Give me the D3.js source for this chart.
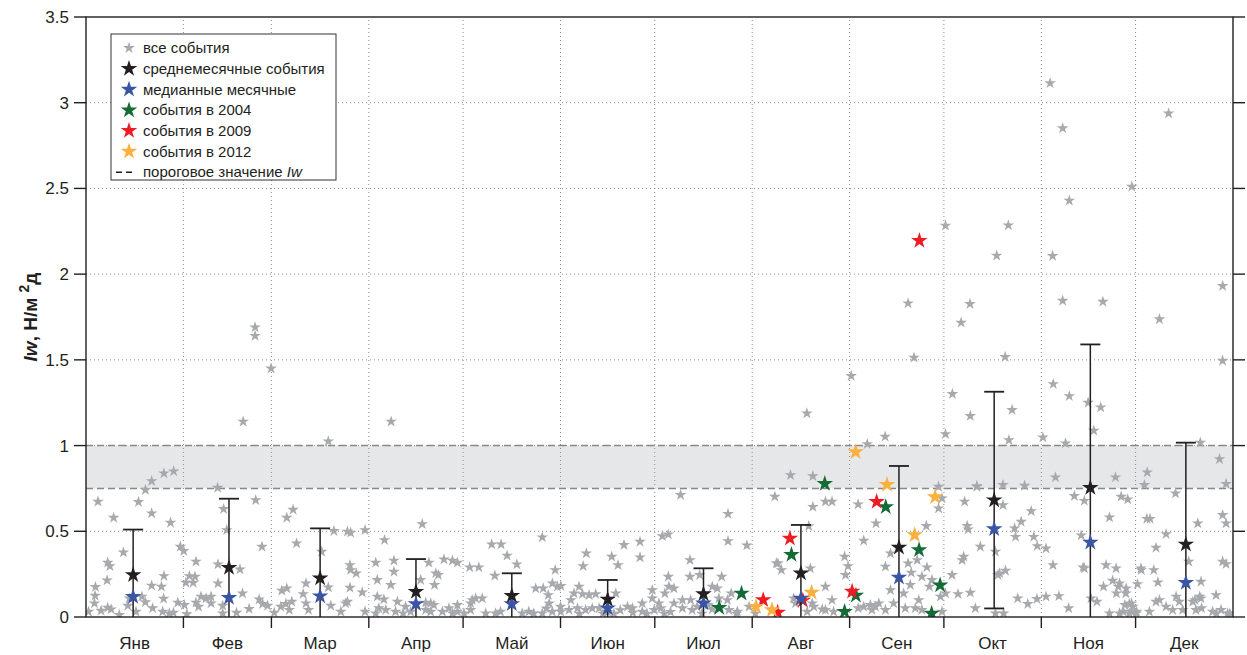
<!DOCTYPE html>
<html>
<head>
<meta charset="utf-8">
<script src="https://cdn.jsdelivr.net/npm/d3@7"></script>
<style>
  body { margin: 0; background: #fff; }
  svg { font-family: "Liberation Sans", Arial, sans-serif; }
</style>
</head>
<body>
<svg id="chart" width="1247" height="655"></svg>
<script>
// Months and their boundaries (day of year)
const months = ["Янв", "Фев", "Мар", "Апр", "Май", "Июн", "Июл", "Авг", "Сен", "Окт", "Ноя", "Дек"];
const monthStarts = [0, 31, 59, 90, 120, 151, 181, 212, 243, 273, 304, 334, 365];
const yTicks = [0, 0.5, 1, 1.5, 2, 2.5, 3, 3.5];
const thresholdLow = 0.75;
const thresholdHigh = 1;

// Monthly statistics
const statDay = [15, 45.5, 74.5, 105, 135.5, 166, 196.5, 227.5, 258.7, 289, 319.6, 350];
const monthMean = [0.245, 0.288, 0.226, 0.148, 0.124, 0.103, 0.134, 0.255, 0.406, 0.682, 0.754, 0.424];
const monthMedian = [0.119, 0.113, 0.122, 0.076, 0.076, 0.051, 0.080, 0.109, 0.231, 0.513, 0.435, 0.200];
const monthStd = [0.265, 0.402, 0.291, 0.190, 0.131, 0.113, 0.150, 0.282, 0.475, 0.632, 0.836, 0.593];

// Events of particular years [day, Iw]
const events2004 = [[201.5, 0.054], [208.6, 0.138], [224.5, 0.364], [235.1, 0.778], [241.4, 0.031],
    [245.0, 0.126], [254.5, 0.642], [265.1, 0.391], [269.1, 0.021], [271.8, 0.185]];
const events2009 = [[215.5, 0.099], [220.1, 0.027], [224.0, 0.458], [228.1, 0.097], [243.8, 0.149],
    [251.6, 0.672], [265.2, 2.195]];
const events2012 = [[213.2, 0.060], [218.3, 0.041], [230.9, 0.143], [244.9, 0.963], [254.9, 0.772],
    [263.7, 0.478], [270.2, 0.700]];

// All events [day, Iw]
const allEvents = [
    [3.8, 0.673], [8.8, 0.579], [16.7, 0.671], [20.9, 0.605], [26.9, 0.55], [18.9, 0.741], [20.9, 0.793],
    [24.8, 0.838], [27.9, 0.85], [11.9, 0.377], [6.9, 0.317], [7.6, 0.297], [6.7, 0.214], [3.0, 0.175],
    [2.9, 0.124], [2.7, 0.08], [0.8, 0.031], [4.8, 0.037], [6.9, 0.054], [8.0, 0.045], [10.6, 0.012],
    [13.3, 0.066], [13.8, 0.109], [15.9, 0.031], [17.8, 0.119], [18.9, 0.086], [20.9, 0.183], [24.0, 0.177],
    [24.8, 0.239], [24.7, 0.107], [21.2, 0.051], [24.4, 0.031], [26.5, 0.021], [27.8, 0.025], [29.2, 0.084],
    [30.0, 0.41], [31.1, 0.385], [31.8, 0.2], [32.9, 0.239], [34.7, 0.235], [34.1, 0.2], [35.0, 0.323],
    [31.3, 0.07], [35.0, 0.084], [36.6, 0.119], [38.2, 0.109], [39.8, 0.119], [39.8, 0.08], [35.8, 0.06],
    [32.1, 0.017], [41.9, 0.754], [43.8, 0.63], [44.8, 0.507], [42.0, 0.307], [42.0, 0.196], [43.5, 0.066],
    [43.5, 0.021], [49.0, 0.278], [49.8, 0.138], [47.9, 0.025], [51.9, 0.047], [54.0, 0.682], [56.0, 0.41],
    [55.1, 0.103], [56.2, 0.076], [57.8, 0.066], [59.9, 0.025], [62.3, 0.154], [63.9, 0.167], [62.0, 0.06],
    [63.6, 0.076], [64.7, 0.041], [65.5, 0.089], [63.9, 0.579], [65.9, 0.626], [67.0, 0.43], [70.0, 0.196],
    [69.1, 0.134], [70.0, 0.08], [70.8, 0.041], [53.8, 1.69], [53.8, 1.64], [50.0, 1.14], [58.9, 1.45],
    [77.1, 1.025], [78.9, 0.502], [83.2, 0.498], [84.2, 0.492], [88.8, 0.507], [75.0, 0.381], [84.0, 0.303],
    [84.2, 0.274], [86.0, 0.255], [77.1, 0.173], [84.0, 0.171], [87.9, 0.144], [77.9, 0.066], [81.1, 0.031],
    [82.6, 0.08], [83.2, 0.089], [88.8, 0.031], [92.2, 0.317], [95.0, 0.449], [92.7, 0.216], [97.0, 0.187],
    [92.7, 0.119], [94.8, 0.103], [93.2, 0.051], [95.4, 0.041], [92.2, 0.021], [98.0, 0.329], [98.0, 0.264],
    [99.1, 0.089], [98.5, 0.031], [101.7, 0.06], [103.3, 0.031], [100.9, 0.021], [107.0, 0.542], [109.1, 0.317],
    [113.9, 0.336], [116.6, 0.329], [118.2, 0.317], [111.3, 0.255], [112.1, 0.245], [110.9, 0.187], [106.5, 0.216],
    [108.1, 0.084], [109.7, 0.08], [110.7, 0.07], [108.1, 0.041], [109.7, 0.031], [113.4, 0.031], [115.5, 0.051],
    [118.2, 0.07], [118.2, 0.031], [120.3, 0.021], [116.6, 0.021], [122.1, 0.29], [125.0, 0.29], [122.4, 0.08],
    [122.9, 0.099], [124.0, 0.109], [126.1, 0.109], [122.4, 0.041], [127.2, 0.021], [130.3, 0.021], [131.9, 0.031],
    [129.1, 0.424], [132.1, 0.424], [134.0, 0.358], [137.1, 0.307], [130.1, 0.241], [145.2, 0.465], [143.1, 0.167],
    [145.5, 0.167], [138.8, 0.021], [140.9, 0.031], [142.5, 0.021], [145.2, 0.021], [97.1, 1.14],
    [149.3, 0.274], [148.4, 0.196], [150.0, 0.177], [151.1, 0.181], [147.1, 0.128], [147.4, 0.08], [148.4, 0.031],
    [151.1, 0.031], [159.2, 0.371], [158.2, 0.297], [154.3, 0.099], [156.9, 0.177], [155.3, 0.138], [158.0, 0.134],
    [160.1, 0.128], [162.2, 0.134], [153.7, 0.041], [156.4, 0.051], [159.0, 0.041], [161.1, 0.051], [163.3, 0.051],
    [171.2, 0.42], [176.3, 0.439], [176.3, 0.348], [167.3, 0.352], [169.3, 0.303], [168.6, 0.138], [172.3, 0.06],
    [173.9, 0.051], [177.0, 0.08], [177.0, 0.031], [180.2, 0.157], [180.2, 0.109], [182.3, 0.08], [182.9, 0.051],
    [180.8, 0.041], [183.4, 0.472], [185.3, 0.482], [189.2, 0.712], [204.3, 0.601], [204.3, 0.443], [210.3, 0.418],
    [192.2, 0.332], [185.3, 0.235], [192.2, 0.235], [195.3, 0.245], [185.5, 0.177], [187.1, 0.167], [184.2, 0.138],
    [187.1, 0.08], [189.8, 0.099], [192.4, 0.099], [189.8, 0.051], [192.9, 0.041], [194.5, 0.06], [199.3, 0.177],
    [200.9, 0.167], [202.3, 0.235], [201.4, 0.109], [204.1, 0.099], [199.3, 0.045], [204.6, 0.041], [207.3, 0.031],
    [205.3, 0.138], [219.2, 0.702], [219.7, 0.313],
    [164.5, 0.02], [166.0, 0.03], [168.0, 0.02], [170.0, 0.04], [174.0, 0.025], [157.0, 0.02], [151.0, 0.06],
    [146.5, 0.05], [178.5, 0.02], [184.0, 0.02], [186.0, 0.03], [196.0, 0.02], [198.0, 0.07], [207.0, 0.02],
    [211.0, 0.06], [213.0, 0.02],
    [248.6, 1.009], [224.2, 0.828], [231.3, 0.822], [235.3, 0.673], [237.4, 0.673], [231.3, 0.643], [220.2, 0.313],
    [221.3, 0.274], [230.5, 0.284], [235.3, 0.177], [225.2, 0.109], [225.8, 0.08], [231.1, 0.08], [231.6, 0.06],
    [229.5, 0.031], [237.4, 0.099], [237.9, 0.031], [235.3, 0.041], [245.7, 0.657], [251.4, 0.546], [247.5, 0.445],
    [241.4, 0.352], [242.5, 0.297], [241.7, 0.245], [245.7, 0.051], [247.5, 0.06], [249.6, 0.07], [251.2, 0.06],
    [252.3, 0.08], [250.1, 0.041], [254.4, 0.294], [256.0, 0.371], [256.0, 0.157], [254.4, 0.041], [257.0, 0.08],
    [261.6, 0.313], [262.6, 0.259], [264.5, 0.332], [267.6, 0.29], [262.3, 0.187], [266.0, 0.235], [260.2, 0.138],
    [260.7, 0.051], [263.9, 0.051], [265.0, 0.099], [267.4, 0.531], [271.3, 0.76], [272.4, 0.692], [271.3, 0.634],
    [269.2, 0.216], [268.4, 0.177], [271.9, 0.119], [273.5, 0.138], [266.0, 0.041], [272.4, 0.031], [279.6, 0.673],
    [280.4, 0.531], [280.7, 0.511], [284.6, 0.41], [279.3, 0.352], [278.8, 0.332], [275.6, 0.245], [277.5, 0.134],
    [281.4, 0.142], [283.5, 0.76], [283.0, 0.051], [289.4, 0.381], [290.2, 0.245], [292.0, 0.021], [289.4, 0.021],
    [230.0, 0.53], [229.4, 1.188], [254.3, 1.052], [234.3, 0.045],
    [243.5, 1.406], [261.6, 1.83], [263.5, 1.513], [273.5, 2.283], [275.7, 1.301], [281.4, 1.173], [278.5, 1.717],
    [281.3, 1.826], [289.8, 2.108], [293.5, 2.285], [292.5, 1.517], [294.7, 1.208], [306.8, 3.114], [310.8, 2.851],
    [312.9, 2.429], [307.6, 2.106], [310.8, 1.845], [323.6, 1.839], [307.8, 1.359], [312.9, 1.289], [318.9, 1.25],
    [322.9, 1.223], [332.8, 2.51], [344.5, 2.938], [341.6, 1.737], [361.7, 1.931], [361.7, 1.495],
    [273.5, 1.067], [293.7, 1.032], [304.5, 1.048], [311.7, 1.013], [320.7, 1.087], [283.5, 0.764], [291.8, 0.77],
    [298.7, 0.766], [308.5, 0.815], [327.6, 0.815], [337.7, 0.844], [336.8, 0.77], [354.6, 1.017], [360.7, 0.921],
    [362.8, 0.776], [346.7, 0.721], [314.5, 0.706], [317.7, 0.678], [329.4, 0.702], [331.5, 0.686], [291.8, 0.653],
    [300.8, 0.618], [325.7, 0.581], [337.6, 0.573], [338.6, 0.573], [353.8, 0.546], [361.7, 0.595], [362.8, 0.546],
    [295.5, 0.517], [297.6, 0.556], [295.8, 0.468], [301.6, 0.468], [302.7, 0.414], [305.5, 0.4], [307.7, 0.303],
    [316.7, 0.476], [317.7, 0.284], [324.6, 0.303], [327.8, 0.284], [340.5, 0.404], [343.7, 0.484], [350.9, 0.323],
    [361.7, 0.323], [362.8, 0.309], [290.7, 0.255], [292.6, 0.27], [326.7, 0.212], [328.9, 0.196], [331.0, 0.167],
    [323.8, 0.177], [335.8, 0.274], [339.8, 0.274], [341.1, 0.202], [354.8, 0.206], [359.6, 0.128], [296.5, 0.109],
    [299.7, 0.076], [302.6, 0.105], [305.5, 0.119], [309.6, 0.122], [312.7, 0.051], [319.8, 0.109], [321.7, 0.089],
    [325.7, 0.021], [328.9, 0.021], [332.0, 0.021], [334.2, 0.021], [332.0, 0.076], [333.1, 0.06], [338.4, 0.031],
    [340.5, 0.089], [341.6, 0.099], [343.7, 0.06], [345.8, 0.041], [346.9, 0.119], [347.9, 0.089], [349.0, 0.041],
    [352.2, 0.089], [353.2, 0.041], [354.8, 0.109], [358.5, 0.031], [361.2, 0.041], [363.3, 0.021],
    [317.3, 0.29], [328.5, 0.177], [327.9, 0.138], [330.9, 0.138], [330.6, 0.07], [332.7, 0.08], [330.1, 0.031],
    [332.7, 0.031], [334.3, 0.031], [334.6, 0.192], [335.7, 0.284], [352.9, 0.099], [354.4, 0.119], [355.0, 0.051],
    [359.7, 0.021], [364.0, 0.021]
];

const svg = d3.select("#chart"),
    margin = { left: 86, right: 14, top: 17, bottom: 38 },
    width = +svg.attr("width"),
    height = +svg.attr("height");

const x = d3.scaleLinear().domain([0, 365]).range([margin.left, width - margin.right]);
const y = d3.scaleLinear().domain([0, 3.5]).range([height - margin.bottom, margin.top]);

const axisColor = "#231f20",
    greyColor = "#a7a9ac",
    colors = { mean: "#231f20", median: "#3a55a4", y2004: "#146b36", y2009: "#ed1c24", y2012: "#fbb040" };

const smallStar = d3.symbol().type(d3.symbolStar).size(42)();
const bigStar = d3.symbol().type(d3.symbolStar).size(85)();

svg.append("defs").append("clipPath").attr("id", "plot-clip")
    .append("rect")
    .attr("x", x(0)).attr("y", y(3.5))
    .attr("width", x(365) - x(0)).attr("height", y(0) - y(3.5));

const plot = svg.append("g").attr("clip-path", "url(#plot-clip)");

// Threshold band
plot.append("rect")
    .attr("x", x(0))
    .attr("y", y(thresholdHigh))
    .attr("width", x(365) - x(0))
    .attr("height", y(thresholdLow) - y(thresholdHigh))
    .attr("fill", "#e6e7e8");

// Dotted grid
plot.selectAll(".hgrid")
    .data(yTicks.filter(d => d > 0 && d < 3.5))
    .join("line")
    .attr("x1", x(0)).attr("x2", x(365))
    .attr("y1", d => y(d)).attr("y2", d => y(d))
    .attr("stroke", "#8d8d8d")
    .attr("stroke-width", 1)
    .attr("stroke-dasharray", "1,3");

plot.selectAll(".vgrid")
    .data(monthStarts.slice(1, -1))
    .join("line")
    .attr("x1", d => x(d)).attr("x2", d => x(d))
    .attr("y1", y(0)).attr("y2", y(3.5))
    .attr("stroke", "#8d8d8d")
    .attr("stroke-width", 1)
    .attr("stroke-dasharray", "1,3");

// Threshold dashed lines
plot.selectAll(".threshold")
    .data([thresholdLow, thresholdHigh])
    .join("line")
    .attr("x1", x(0)).attr("x2", x(365))
    .attr("y1", d => y(d)).attr("y2", d => y(d))
    .attr("stroke", "#888")
    .attr("stroke-width", 1.6)
    .attr("stroke-dasharray", "7,4");

// All events
plot.selectAll(".ev")
    .data(allEvents)
    .join("path")
    .attr("d", smallStar)
    .attr("transform", d => `translate(${x(d[0])},${y(d[1])})`)
    .attr("fill", greyColor);

// Events of particular years
[[events2004, colors.y2004], [events2009, colors.y2009], [events2012, colors.y2012]].forEach(([data, c]) => {
    plot.append("g").selectAll("path")
        .data(data)
        .join("path")
        .attr("d", bigStar)
        .attr("transform", d => `translate(${x(d[0])},${y(d[1])})`)
        .attr("fill", c);
});

// Error bars (mean +/- std)
const bars = plot.append("g");
statDay.forEach((day, i) => {
    const hi = monthMean[i] + monthStd[i],
        lo = monthMean[i] - monthStd[i];
    bars.append("line")
        .attr("x1", x(day)).attr("x2", x(day))
        .attr("y1", y(hi)).attr("y2", y(Math.max(lo, -0.1)))
        .attr("stroke", axisColor).attr("stroke-width", 1.5);
    [hi, lo].forEach(v => {
        bars.append("line")
            .attr("x1", x(day) - 10).attr("x2", x(day) + 10)
            .attr("y1", y(v)).attr("y2", y(v))
            .attr("stroke", axisColor).attr("stroke-width", 1.8);
    });
});

// Mean and median stars
plot.append("g").selectAll("path")
    .data(statDay.map((d, i) => [d, monthMedian[i]]))
    .join("path")
    .attr("d", bigStar)
    .attr("transform", d => `translate(${x(d[0])},${y(d[1])})`)
    .attr("fill", colors.median);

plot.append("g").selectAll("path")
    .data(statDay.map((d, i) => [d, monthMean[i]]))
    .join("path")
    .attr("d", bigStar)
    .attr("transform", d => `translate(${x(d[0])},${y(d[1])})`)
    .attr("fill", colors.mean);

// Axes frame
const axes = svg.append("g").attr("stroke", axisColor).attr("stroke-width", 1.4);
axes.append("rect")
    .attr("x", x(0)).attr("y", y(3.5))
    .attr("width", x(365) - x(0)).attr("height", y(0) - y(3.5))
    .attr("fill", "none");

// Y ticks on both sides
axes.selectAll(".ytl").data(yTicks).join("line")
    .attr("x1", x(0) - 12).attr("x2", x(0))
    .attr("y1", d => y(d)).attr("y2", d => y(d));
axes.selectAll(".ytr").data(yTicks).join("line")
    .attr("x1", x(365)).attr("x2", x(365) + 12)
    .attr("y1", d => y(d)).attr("y2", d => y(d));

// X ticks at month boundaries
axes.selectAll(".xt").data(monthStarts.slice(1, -1)).join("line")
    .attr("x1", d => x(d)).attr("x2", d => x(d))
    .attr("y1", y(0)).attr("y2", y(0) + 11);

svg.append("g").selectAll("text")
    .data(yTicks)
    .join("text")
    .attr("x", x(0) - 17)
    .attr("y", d => y(d))
    .attr("dy", "0.35em")
    .attr("text-anchor", "end")
    .style("font-size", "17px")
    .style("fill", axisColor)
    .text(d => d);

svg.append("g").selectAll("text")
    .data(months)
    .join("text")
    .attr("x", (d, i) => x((monthStarts[i] + monthStarts[i + 1]) / 2))
    .attr("y", y(0) + 32)
    .attr("text-anchor", "middle")
    .style("font-size", "17px")
    .style("fill", axisColor)
    .text(d => d);

// Y axis label
const ylab = svg.append("text")
    .attr("transform", `translate(37, ${(y(0) + y(3.5)) / 2}) rotate(-90)`)
    .attr("text-anchor", "middle")
    .style("font-size", "19px")
    .style("font-weight", "bold")
    .style("fill", axisColor);
ylab.append("tspan").style("font-style", "italic").text("Iw");
ylab.append("tspan").text(", Н/м ");
ylab.append("tspan").attr("dy", -8).style("font-size", "14px").text("2");
ylab.append("tspan").attr("dy", 8).text("д");

// Legend
const legend = svg.append("g").attr("transform", "translate(111, 34)");
legend.append("rect")
    .attr("width", 225).attr("height", 146)
    .attr("fill", "#fff")
    .attr("stroke", "#333").attr("stroke-width", 1);

const legendItems = [
    { label: "все события", color: greyColor, shape: smallStar },
    { label: "среднемесячные события", color: colors.mean, shape: bigStar },
    { label: "медианные месячные", color: colors.median, shape: bigStar },
    { label: "события в 2004", color: colors.y2004, shape: bigStar },
    { label: "события в 2009", color: colors.y2009, shape: bigStar },
    { label: "события в 2012", color: colors.y2012, shape: bigStar }
];

legendItems.forEach((item, i) => {
    const row = legend.append("g").attr("transform", `translate(0, ${14 + i * 20.7})`);
    row.append("path")
        .attr("d", item.shape)
        .attr("transform", "translate(18, 0)")
        .attr("fill", item.color);
    row.append("text")
        .attr("x", 32)
        .attr("dy", "0.35em")
        .style("font-size", "15px")
        .style("fill", axisColor)
        .text(item.label);
});

const dashRow = legend.append("g").attr("transform", `translate(0, ${14 + 6 * 20.7})`);
dashRow.append("line")
    .attr("x1", 5).attr("x2", 24)
    .attr("stroke", axisColor).attr("stroke-width", 1.5)
    .attr("stroke-dasharray", "6,4");
const dashText = dashRow.append("text")
    .attr("x", 32)
    .attr("dy", "0.35em")
    .style("font-size", "15px")
    .style("fill", axisColor);
dashText.append("tspan").text("пороговое значение ");
dashText.append("tspan").style("font-style", "italic").text("Iw");
</script>
</body>
</html>
